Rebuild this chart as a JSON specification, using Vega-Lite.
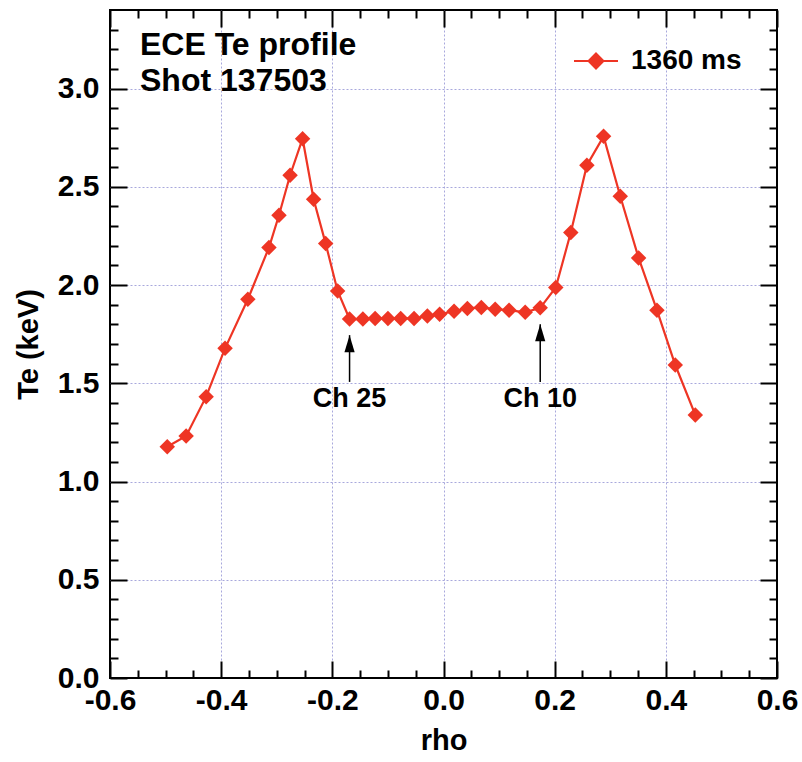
{
  "$schema": "https://vega.github.io/schema/vega-lite/v6.json",
  "width": 667,
  "height": 668,
  "autosize": {"type": "none"},
  "padding": {"left": 110, "top": 10, "right": 25, "bottom": 84},
  "background": "white",
  "config": {
    "view": {"stroke": "black", "strokeWidth": 2},
    "font": "Liberation Sans",
    "axis": {
      "domain": false,
      "labelFont": "Liberation Sans",
      "labelFontWeight": "bold",
      "labelFontSize": 30,
      "labelColor": "black",
      "labelFlush": false,
      "labelOverlap": false,
      "tickColor": "black",
      "tickWidth": 2,
      "titleFont": "Liberation Sans",
      "titleFontWeight": "bold",
      "titleFontSize": 29,
      "titleColor": "black",
      "gridColor": "#a8a8dc",
      "gridDash": [2, 2],
      "gridWidth": 1
    }
  },
  "datasets": {
    "profile": [
      {"rho": -0.497, "Te": 1.177},
      {"rho": -0.463, "Te": 1.232},
      {"rho": -0.427, "Te": 1.432},
      {"rho": -0.393, "Te": 1.678},
      {"rho": -0.352, "Te": 1.928},
      {"rho": -0.314, "Te": 2.191},
      {"rho": -0.296, "Te": 2.355},
      {"rho": -0.276, "Te": 2.559},
      {"rho": -0.2535, "Te": 2.745},
      {"rho": -0.2337, "Te": 2.437},
      {"rho": -0.212, "Te": 2.211},
      {"rho": -0.1905, "Te": 1.97},
      {"rho": -0.169, "Te": 1.827},
      {"rho": -0.145, "Te": 1.827},
      {"rho": -0.123, "Te": 1.83},
      {"rho": -0.1, "Te": 1.83},
      {"rho": -0.077, "Te": 1.83},
      {"rho": -0.053, "Te": 1.83},
      {"rho": -0.029, "Te": 1.843},
      {"rho": -0.007, "Te": 1.851},
      {"rho": 0.019, "Te": 1.867},
      {"rho": 0.043, "Te": 1.881},
      {"rho": 0.068, "Te": 1.886},
      {"rho": 0.093, "Te": 1.877},
      {"rho": 0.118, "Te": 1.872},
      {"rho": 0.147, "Te": 1.861},
      {"rho": 0.174, "Te": 1.884},
      {"rho": 0.202, "Te": 1.988},
      {"rho": 0.229, "Te": 2.267},
      {"rho": 0.258, "Te": 2.61},
      {"rho": 0.288, "Te": 2.757},
      {"rho": 0.318, "Te": 2.452},
      {"rho": 0.351, "Te": 2.138},
      {"rho": 0.384, "Te": 1.872},
      {"rho": 0.417, "Te": 1.593},
      {"rho": 0.453, "Te": 1.339}
    ],
    "notes": [
      {"label": "Ch 25", "rho": -0.169, "tip": 1.745, "tail": 1.507, "texty": 1.38},
      {"label": "Ch 10", "rho": 0.174, "tip": 1.8, "tail": 1.507, "texty": 1.38}
    ]
  },
  "layer": [
    {
      "data": {"name": "profile"},
      "mark": {"type": "line", "strokeWidth": 2.2},
      "encoding": {
        "x": {
          "field": "rho", "type": "quantitative",
          "scale": {"domain": [-0.6, 0.6], "nice": false, "zero": false},
          "axis": {
            "orient": "bottom",
            "title": "rho",
            "titlePadding": 2,
            "values": [-0.6,-0.55,-0.5,-0.45,-0.4,-0.35,-0.3,-0.25,-0.2,-0.15,-0.1,-0.05,0,0.05,0.1,0.15,0.2,0.25,0.3,0.35,0.4,0.45,0.5,0.55,0.6],
            "labelExpr": "round(datum.value*100) % 20 === 0 ? (datum.value < 0 ? '-' : '') + format(abs(datum.value), '.1f') : ''",
            "tickSize": {"condition": {"test": "round(datum.value*100) % 20 === 0", "value": -17}, "value": -8},
            "labelPadding": 24,
            "grid": true,
            "gridOpacity": {"condition": {"test": "round(datum.value*100) % 20 === 0 && abs(datum.value) < 0.59", "value": 1}, "value": 0}
          }
        },
        "y": {
          "field": "Te", "type": "quantitative",
          "scale": {"domain": [0, 3.4], "nice": false},
          "axis": {
            "orient": "left",
            "title": "Te (keV)",
            "titlePadding": 14,
            "values": [0,0.1,0.2,0.3,0.4,0.5,0.6,0.7,0.8,0.9,1,1.1,1.2,1.3,1.4,1.5,1.6,1.7,1.8,1.9,2,2.1,2.2,2.3,2.4,2.5,2.6,2.7,2.8,2.9,3,3.1,3.2,3.3],
            "labelExpr": "round(datum.value*10) % 5 === 0 ? format(datum.value, '.1f') : ''",
            "tickSize": {"condition": {"test": "round(datum.value*10) % 5 === 0", "value": -17}, "value": -8},
            "labelPadding": 28,
            "grid": true,
            "gridOpacity": {"condition": {"test": "round(datum.value*10) % 5 === 0 && datum.value > 0.01", "value": 1}, "value": 0}
          }
        },
        "color": {
          "datum": "1360 ms",
          "type": "nominal",
          "scale": {"range": ["#ee3524"]},
          "legend": {
            "title": null,
            "orient": "none",
            "legendX": 463,
            "legendY": 28,
            "padding": 0,
            "symbolType": "M-1,0L1,0M0,-0.34L0.34,0L0,0.34L-0.34,0Z",
            "symbolSize": 1936,
            "symbolFillColor": "#ee3524",
            "symbolStrokeColor": "#ee3524",
            "symbolStrokeWidth": 2,
            "symbolOpacity": 1,
            "labelFont": "Liberation Sans",
            "labelFontWeight": "bold",
            "labelFontSize": 28,
            "labelColor": "black",
            "labelOffset": 12
          }
        }
      }
    },
    {
      "data": {"name": "profile"},
      "mark": {"type": "point", "shape": "diamond", "filled": true, "size": 240, "opacity": 1},
      "encoding": {
        "x": {
          "field": "rho", "type": "quantitative",
          "axis": {
            "orient": "top",
            "title": null,
            "values": [-0.6,-0.55,-0.5,-0.45,-0.4,-0.35,-0.3,-0.25,-0.2,-0.15,-0.1,-0.05,0,0.05,0.1,0.15,0.2,0.25,0.3,0.35,0.4,0.45,0.5,0.55,0.6],
            "labels": false,
            "grid": false,
            "tickSize": {"condition": {"test": "round(datum.value*100) % 20 === 0", "value": -17}, "value": -8}
          }
        },
        "y": {
          "field": "Te", "type": "quantitative",
          "axis": {
            "orient": "right",
            "title": null,
            "values": [0,0.1,0.2,0.3,0.4,0.5,0.6,0.7,0.8,0.9,1,1.1,1.2,1.3,1.4,1.5,1.6,1.7,1.8,1.9,2,2.1,2.2,2.3,2.4,2.5,2.6,2.7,2.8,2.9,3,3.1,3.2,3.3],
            "labels": false,
            "grid": false,
            "tickSize": {"condition": {"test": "round(datum.value*10) % 5 === 0", "value": -17}, "value": -8}
          }
        },
        "color": {"datum": "1360 ms", "type": "nominal"}
      }
    },
    {
      "data": {"name": "notes"},
      "mark": {"type": "rule", "color": "black", "strokeWidth": 1.5},
      "encoding": {
        "x": {"field": "rho", "type": "quantitative", "axis": null},
        "y": {"field": "tail", "type": "quantitative", "axis": null},
        "y2": {"field": "tip"}
      }
    },
    {
      "data": {"name": "notes"},
      "mark": {"type": "point", "shape": "M0,0L0.6,2L-0.6,2Z", "filled": true, "size": 289, "color": "black", "opacity": 1},
      "encoding": {
        "x": {"field": "rho", "type": "quantitative", "axis": null},
        "y": {"field": "tip", "type": "quantitative", "axis": null}
      }
    },
    {
      "data": {"name": "notes"},
      "mark": {"type": "text", "font": "Liberation Sans", "fontWeight": "bold", "fontSize": 27, "align": "center", "baseline": "alphabetic", "color": "black"},
      "encoding": {
        "x": {"field": "rho", "type": "quantitative", "axis": null},
        "y": {"field": "texty", "type": "quantitative", "axis": null},
        "text": {"field": "label"}
      }
    },
    {
      "data": {"values": [{}]},
      "mark": {"type": "text", "font": "Liberation Sans", "fontWeight": "bold", "fontSize": 32, "align": "left", "baseline": "alphabetic", "lineHeight": 36, "color": "black"},
      "encoding": {
        "x": {"datum": -0.546, "type": "quantitative", "axis": null},
        "y": {"datum": 3.169, "type": "quantitative", "axis": null},
        "text": {"value": ["ECE Te profile", "Shot 137503"]}
      }
    }
  ],
  "resolve": {"axis": {"x": "independent", "y": "independent"}}
}
